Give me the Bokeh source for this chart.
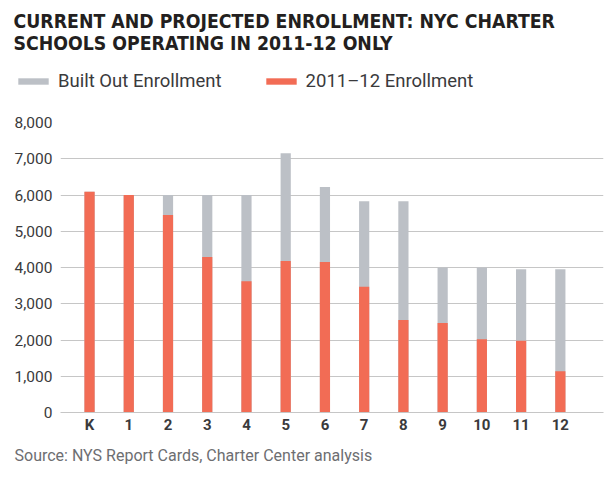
from bokeh.plotting import figure
from bokeh.layouts import column
from bokeh.models import (ColumnDataSource, Title, Label, Legend, LegendItem,
                          FixedTicker, NumeralTickFormatter)
from bokeh.embed import file_html
from bokeh.resources import INLINE

grades = ["K", "1", "2", "3", "4", "5", "6", "7", "8", "9", "10", "11", "12"]
built_out = [6090, 6000, 6000, 6000, 6000, 7150, 6220, 5830, 5830, 4000, 4000, 3950, 3950]
current = [6090, 6000, 5450, 4290, 3620, 4180, 4150, 3470, 2550, 2470, 2020, 1980, 1140]
y_ticks = [0, 1000, 2000, 3000, 4000, 5000, 6000, 7000, 8000]

GREY = "#bcc0c6"
RED = "#f26c55"
TXT = "#3a3a3c"
W = 604
TOP_H = 96
MAIN_H = 376

idx = list(range(len(grades)))
src = ColumnDataSource(dict(x=idx, grade=grades, built=built_out, cur=current))

# ---------- header: title + legend ----------
h = figure(width=W, height=TOP_H, output_backend="svg", toolbar_location=None,
           x_range=(100, 101), y_range=(0, 1), min_border=0)
h.frame_align = False
h.axis.visible = False
h.grid.visible = False
h.outline_line_color = None
h.border_fill_color = "white"

for txt, yb in [("CURRENT AND PROJECTED ENROLLMENT: NYC CHARTER", TOP_H - 20.5),
                ("SCHOOLS OPERATING IN 2011-12 ONLY", TOP_H - 43)]:
    h.add_layout(Label(x=13, y=yb, x_units="screen", y_units="screen", text=txt,
                       text_font="DejaVu Sans Condensed", text_font_style="bold",
                       text_font_size="19.3px", text_color="#231f20",
                       text_baseline="alphabetic", text_align="left"))

# legend keys: same bars as the chart, hidden in the header (only their keys are shown)
g1 = h.vbar(x="x", top="built", width=0.26, source=src, fill_color=GREY, line_color=None)
g2 = h.vbar(x="x", top="cur", width=0.26, source=src, fill_color=RED, line_color=None)
g1.visible = False
g2.visible = False
legend = Legend(items=[LegendItem(label="Built Out Enrollment", renderers=[g1]),
                       LegendItem(label="2011\u201312 Enrollment", renderers=[g2])],
                orientation="horizontal", location=(14, 4),
                glyph_width=38, glyph_height=8, label_height=8, label_text_font="Roboto",
                label_text_font_size="18.5px", label_text_color=TXT,
                spacing=40, padding=0, margin=0, border_line_color=None,
                background_fill_alpha=0, label_standoff=6,
                inactive_fill_alpha=0)
h.add_layout(legend, "center")

# ---------- main chart ----------
p = figure(width=W, height=MAIN_H, output_backend="svg", toolbar_location=None,
           x_range=(-0.74, 13.1), y_range=(0, 8000),
           min_border_left=60, min_border_right=1, min_border_top=26, min_border_bottom=60)
p.frame_align = False
p.outline_line_color = None
p.border_fill_color = "white"

p.vbar(x="x", top="built", width=0.26, source=src, fill_color=GREY, line_color=None)
p.vbar(x="x", top="cur", width=0.26, source=src, fill_color=RED, line_color=None)

p.xgrid.visible = False
p.ygrid.ticker = FixedTicker(ticks=y_ticks)
p.ygrid.grid_line_color = "#c6c6c6"
p.ygrid.grid_line_width = 1

p.yaxis.ticker = FixedTicker(ticks=y_ticks)
p.yaxis.formatter = NumeralTickFormatter(format="0,0")
p.yaxis.axis_line_color = None
p.yaxis.major_tick_line_color = None
p.yaxis.major_tick_out = 0
p.yaxis.major_tick_in = 0
p.yaxis.minor_tick_line_color = None
p.yaxis.major_label_standoff = 8
p.yaxis.major_label_text_font = "Roboto"
p.yaxis.major_label_text_font_size = "15.5px"
p.yaxis.major_label_text_color = TXT

p.xaxis.ticker = FixedTicker(ticks=idx)
p.xaxis.major_label_overrides = {i: g for i, g in enumerate(grades)}
p.xaxis.axis_line_color = "#c6c6c6"
p.xaxis.major_tick_line_color = None
p.xaxis.major_tick_out = 0
p.xaxis.major_tick_in = 0
p.xaxis.minor_tick_line_color = None
p.xaxis.major_label_standoff = 3
p.xaxis.major_label_text_font = "Roboto"
p.xaxis.major_label_text_font_style = "bold"
p.xaxis.major_label_text_font_size = "15px"
p.xaxis.major_label_text_color = TXT

p.add_layout(Title(text="Source: NYS Report Cards, Charter Center analysis", align="left",
                   offset=-46, text_font="Roboto", text_font_size="16px",
                   text_color="#6d6e71", text_font_style="normal", standoff=15), "below")

layout = column(h, p, spacing=0)
open("out.html", "w").write(file_html(layout, INLINE))
